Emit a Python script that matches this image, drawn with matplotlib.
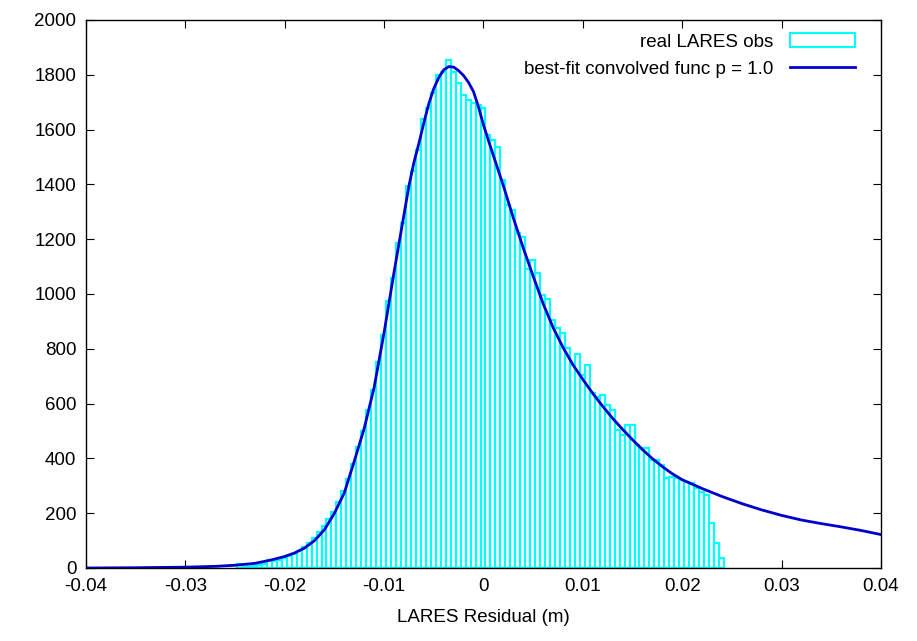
import numpy as np
import matplotlib
matplotlib.use("Agg")
import matplotlib.pyplot as plt
from matplotlib.patches import Patch
from matplotlib.lines import Line2D

plt.rcParams["font.family"] = ["Liberation Sans", "DejaVu Sans"]

# histogram of residuals: bins of 0.0005 m starting at -0.0248 m
BIN_START = -0.0248
BIN_WIDTH = 0.0005
COUNTS = [
    16, 5, 7, 9, 12, 15, 30, 24, 30, 38,
    45, 52, 62, 75, 90, 108, 130, 152, 180, 205,
    240, 280, 325, 380, 440, 500, 575, 650, 750, 850,
    975, 1060, 1185, 1260, 1395, 1450, 1525, 1640, 1680, 1733,
    1800, 1810, 1854, 1810, 1770, 1726, 1708, 1697, 1690, 1679,
    1580, 1562, 1537, 1416, 1325, 1307, 1222, 1208, 1090, 1124,
    1077, 996, 980, 905, 876, 858, 803, 741, 781, 704,
    741, 639, 625, 631, 595, 577, 504, 485, 522, 522,
    449, 438, 438, 394, 394, 376, 328, 332, 328, 321,
    314, 310, 292, 277, 266, 164, 91, 36,
]

# best-fit convolved function
FIT_X = [
    -0.040, -0.035, -0.030, -0.027, -0.025, -0.023, -0.0215, -0.020, -0.019, -0.018,
    -0.017, -0.016, -0.015, -0.014, -0.013, -0.012, -0.011, -0.010, -0.009, -0.008,
    -0.0075, -0.007, -0.0065, -0.006, -0.0055, -0.005, -0.0045, -0.004, -0.0035, -0.003,
    -0.0025, -0.002, -0.0015, -0.001, -0.0005, 0.0, 0.0005, 0.001, 0.0015, 0.002,
    0.003, 0.004, 0.005, 0.006, 0.007, 0.008, 0.009, 0.010, 0.011, 0.012,
    0.013, 0.014, 0.015, 0.016, 0.017, 0.018, 0.019, 0.020, 0.022, 0.024,
    0.026, 0.028, 0.030, 0.032, 0.034, 0.036, 0.038, 0.040,
]
FIT_Y = [
    0, 1, 3, 6, 10, 17, 28, 42, 55, 73,
    100, 140, 200, 275, 390, 510, 660, 860, 1080, 1290,
    1395, 1480, 1550, 1625, 1695, 1750, 1790, 1818, 1830, 1828,
    1815, 1797, 1772, 1738, 1682, 1617, 1560, 1505, 1450, 1395,
    1278, 1168, 1065, 965, 878, 805, 742, 688, 637, 590,
    546, 506, 468, 432, 399, 370, 344, 322, 290, 261,
    235, 212, 192, 175, 162, 150, 137, 122,
]

X_TICKS = [-0.04, -0.03, -0.02, -0.01, 0, 0.01, 0.02, 0.03, 0.04]
X_LABELS = ["-0.04", "-0.03", "-0.02", "-0.01", "0", "0.01", "0.02", "0.03", "0.04"]
Y_TICKS = list(range(0, 2001, 200))

CYAN = "#00ffff"
BLUE = "#0000cc"

fig = plt.figure(figsize=(9.17, 6.41), dpi=100)
ax = fig.add_axes([0.0938, 0.1139, 0.8669, 0.8549])

lefts = BIN_START + BIN_WIDTH * np.arange(len(COUNTS))
ax.bar(lefts, COUNTS, width=BIN_WIDTH, align="edge",
       facecolor="white", edgecolor=CYAN, linewidth=1.6, zorder=2)
ax.plot(FIT_X, FIT_Y, color=BLUE, lw=2.0, zorder=3)

ax.set_xlim(-0.04, 0.04)
ax.set_ylim(0, 2000)
ax.set_xticks(X_TICKS)
ax.set_xticklabels(X_LABELS)
ax.set_yticks(Y_TICKS)
ax.tick_params(direction="in", length=6, width=0.8, top=True, right=True,
               labelsize=13.5, pad=7, colors="black")
for s in ax.spines.values():
    s.set_linewidth(1.0)
    s.set_zorder(5)
ax.set_xlabel("LARES Residual (m)", fontsize=13.5, labelpad=10)

handles = [
    Patch(facecolor="white", edgecolor=CYAN, linewidth=1.5),
    Line2D([], [], color=BLUE, lw=2.0),
]
ax.legend(handles, ["real LARES obs", "best-fit convolved func p = 1.0"],
          loc="upper right", bbox_to_anchor=(0.977, 0.99), borderaxespad=0,
          frameon=False, markerfirst=False, fontsize=13.5,
          handlelength=3.5, handleheight=0.8,
          labelspacing=0.5, handletextpad=0.85)

fig.savefig("out.png", dpi=100, facecolor="white")
